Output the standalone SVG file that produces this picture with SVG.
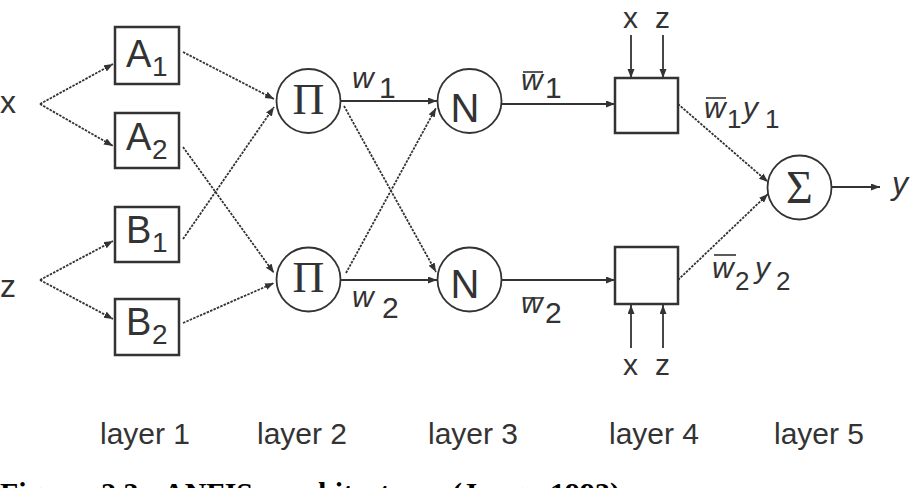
<svg xmlns="http://www.w3.org/2000/svg" width="916" height="488" viewBox="0 0 916 488">
<style>
.ln{stroke:#333;stroke-width:1.8;fill:none}
.dl{stroke-dasharray:2.5 1.2}
.box{fill:#fff;stroke:#333;stroke-width:2.5}
.nd{fill:#fff;stroke:#333;stroke-width:1.8}
.t{font-family:"Liberation Sans",Arial,sans-serif;fill:#333}
.it{font-style:italic}
.sf{font-family:"Liberation Serif","Times New Roman",serif;fill:#333}
.cap{font-family:"Liberation Serif","Times New Roman",serif;font-weight:bold;font-size:30px;fill:#000}
.ov{stroke:#333;stroke-width:1.6}
</style>
<defs>
<marker id="ah" markerUnits="userSpaceOnUse" markerWidth="10" markerHeight="8" refX="9" refY="3.5" orient="auto">
<path d="M0,0 L9,3.5 L0,7 z" fill="#333"/>
</marker>
</defs>
<rect width="916" height="488" fill="#fff"/>

<g id="connectors">
<line class="ln dl" x1="40" y1="104" x2="113" y2="64" marker-end="url(#ah)"/>
<line class="ln dl" x1="40" y1="104" x2="113" y2="146" marker-end="url(#ah)"/>
<line class="ln dl" x1="40" y1="280" x2="113" y2="241" marker-end="url(#ah)"/>
<line class="ln dl" x1="40" y1="280" x2="113" y2="319" marker-end="url(#ah)"/>
<line class="ln dl" x1="183" y1="52" x2="274" y2="99" marker-end="url(#ah)"/>
<line class="ln dl" x1="183" y1="147" x2="274" y2="273" marker-end="url(#ah)"/>
<line class="ln dl" x1="183" y1="239" x2="274" y2="107" marker-end="url(#ah)"/>
<line class="ln dl" x1="183" y1="323" x2="274" y2="283" marker-end="url(#ah)"/>
<line class="ln" x1="340" y1="101" x2="437" y2="101" marker-end="url(#ah)"/>
<line class="ln dl" x1="344" y1="106" x2="436" y2="272" marker-end="url(#ah)"/>
<line class="ln dl" x1="346" y1="273" x2="436" y2="108" marker-end="url(#ah)"/>
<line class="ln" x1="340" y1="280" x2="437" y2="280" marker-end="url(#ah)"/>
<line class="ln" x1="502" y1="104" x2="615" y2="104" marker-end="url(#ah)"/>
<line class="ln" x1="502" y1="280" x2="615" y2="280" marker-end="url(#ah)"/>
<line class="ln" x1="631" y1="35" x2="631" y2="78" marker-end="url(#ah)"/>
<line class="ln" x1="663" y1="35" x2="663" y2="78" marker-end="url(#ah)"/>
<line class="ln" x1="631" y1="348" x2="631" y2="305" marker-end="url(#ah)"/>
<line class="ln" x1="663" y1="348" x2="663" y2="305" marker-end="url(#ah)"/>
<line class="ln dl" x1="678" y1="104" x2="768" y2="182" marker-end="url(#ah)"/>
<line class="ln dl" x1="678" y1="280" x2="768" y2="194" marker-end="url(#ah)"/>
<line class="ln" x1="832" y1="187" x2="880" y2="187" marker-end="url(#ah)"/>
</g>

<g id="in-x"><text class="t" x="0" y="113" font-size="32">x</text></g>
<g id="in-z"><text class="t" x="0" y="297" font-size="32">z</text></g>

<g id="A1"><rect class="box" x="115" y="27" width="64" height="57"/>
<text class="t" x="126" y="67" font-size="38">A</text><text class="t" x="152" y="76" font-size="28">1</text></g>
<g id="A2"><rect class="box" x="115" y="113" width="64" height="55"/>
<text class="t" x="126" y="150" font-size="38">A</text><text class="t" x="152" y="159" font-size="28">2</text></g>
<g id="B1"><rect class="box" x="115" y="207" width="64" height="55"/>
<text class="t" x="126" y="243" font-size="38">B</text><text class="t" x="152" y="252" font-size="28">1</text></g>
<g id="B2"><rect class="box" x="115" y="299" width="64" height="56"/>
<text class="t" x="126" y="335" font-size="38">B</text><text class="t" x="152" y="344" font-size="28">2</text></g>

<g id="Pi1"><circle class="nd" cx="308.5" cy="101" r="32"/>
<text class="sf" x="308.5" y="114" font-size="44" text-anchor="middle">Π</text></g>
<g id="Pi2"><circle class="nd" cx="308.5" cy="279.5" r="32"/>
<text class="sf" x="308.5" y="292" font-size="44" text-anchor="middle">Π</text></g>

<g id="N1"><circle class="nd" cx="469.5" cy="101" r="32"/>
<text class="t" x="465" y="122" font-size="40" text-anchor="middle">N</text></g>
<g id="N2"><circle class="nd" cx="469.5" cy="279.5" r="32"/>
<text class="t" x="465" y="298" font-size="40" text-anchor="middle">N</text></g>

<g id="L4a"><rect class="box" x="615" y="78" width="63" height="55"/></g>
<g id="L4b"><rect class="box" x="615" y="247" width="63" height="57"/></g>

<g id="Sigma"><circle class="nd" cx="799.5" cy="187.5" r="32"/>
<text class="sf" x="799.5" y="203" font-size="46" text-anchor="middle">Σ</text></g>

<g id="labels">
<text class="t it" x="352" y="88" font-size="30">w</text><text class="t" x="379" y="98" font-size="30">1</text>
<text class="t it" x="352" y="307" font-size="30">w</text><text class="t" x="382" y="318" font-size="30">2</text>
<line class="ov" x1="523" y1="72" x2="543" y2="72"/>
<text class="t it" x="521" y="90" font-size="30">w</text><text class="t" x="545" y="98" font-size="30">1</text>
<line class="ov" x1="523" y1="298" x2="543" y2="298"/>
<text class="t it" x="521" y="313" font-size="30">w</text><text class="t" x="545" y="323" font-size="30">2</text>
<line class="ov" x1="706" y1="98" x2="726" y2="98"/>
<text class="t it" x="704" y="118" font-size="30">w</text><text class="t" x="727" y="128" font-size="26">1</text>
<text class="t it" x="743" y="118" font-size="30">y</text><text class="t" x="765" y="128" font-size="26">1</text>
<line class="ov" x1="714" y1="255" x2="736" y2="255"/>
<text class="t it" x="712" y="278" font-size="30">w</text><text class="t" x="735" y="290" font-size="26">2</text>
<text class="t it" x="755" y="278" font-size="30">y</text><text class="t" x="776" y="290" font-size="26">2</text>
<text class="t" x="623" y="28" font-size="30">x</text><text class="t" x="655" y="28" font-size="30">z</text>
<text class="t" x="623" y="375" font-size="30">x</text><text class="t" x="655" y="375" font-size="30">z</text>
<text class="t it" x="892" y="194" font-size="32">y</text>
<text class="t" x="100" y="444" font-size="30">layer 1</text>
<text class="t" x="257" y="444" font-size="30">layer 2</text>
<text class="t" x="428" y="444" font-size="30">layer 3</text>
<text class="t" x="609" y="444" font-size="30">layer 4</text>
<text class="t" x="774" y="444" font-size="30">layer 5</text>
<text class="cap" y="503"><tspan x="0">Figure</tspan><tspan x="101">2.3</tspan><tspan x="163">ANFIS</tspan><tspan x="277">architecture</tspan><tspan x="452">(Jang,</tspan><tspan x="550">1993)</tspan></text>
</g>
</svg>
